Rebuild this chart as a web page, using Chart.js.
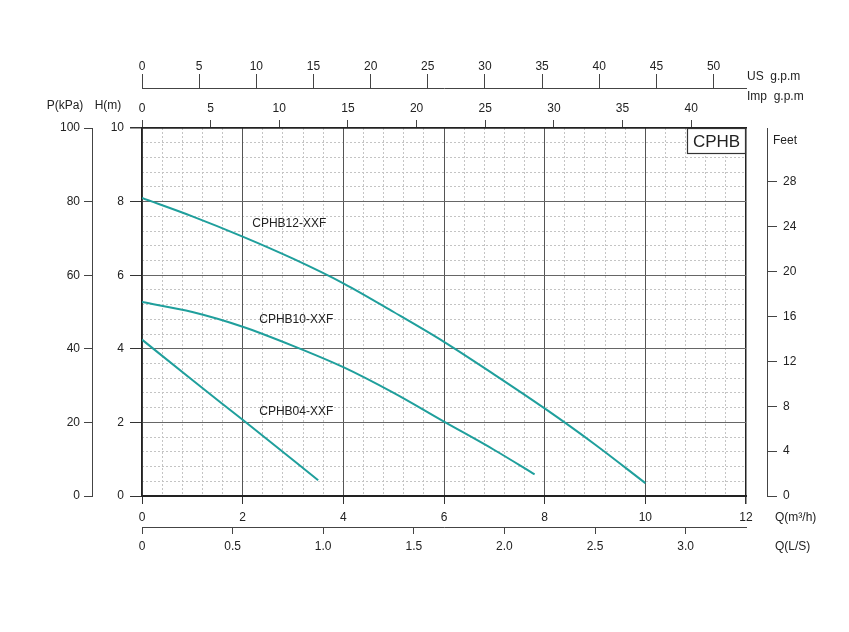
<!DOCTYPE html>
<html>
<head>
<meta charset="utf-8">
<script src="https://cdn.jsdelivr.net/npm/chart.js@4.4.1/dist/chart.umd.min.js"></script>
<style>
html,body{margin:0;padding:0;background:#fff;}
canvas{display:block;}
</style>
</head>
<body>
<canvas id="c" width="849" height="632"></canvas>
<script>
// ---- data ----
const flow12 = [0, 1, 2, 3, 4, 5, 6, 7, 8, 9, 10];
const head12 = [8.1, 7.6, 7.05, 6.45, 5.78, 5.0, 4.19, 3.3, 2.38, 1.4, 0.35];
const flow10 = [0, 1, 2, 3, 4, 5, 6, 7, 7.8];
const head10 = [5.27, 5.0, 4.6, 4.08, 3.5, 2.8, 2.02, 1.25, 0.59];
const flow04 = [0, 1, 2, 3, 3.5];
const head04 = [4.25, 3.15, 2.07, 0.98, 0.43];
const seriesNames = ['CPHB12-XXF', 'CPHB10-XXF', 'CPHB04-XXF'];
const labelAnchorQ = [2.19, 2.33, 2.33];
const labelAnchorH = [7.39, 4.78, 2.28];

// ---- axis ticks ----
const flowTicks = [0, 2, 4, 6, 8, 10, 12];            // m3/h
const lsTicks = [0, 0.5, 1.0, 1.5, 2.0, 2.5, 3.0];    // L/s
const impTicks = [0, 5, 10, 15, 20, 25, 30, 35, 40];  // Imp g.p.m
const usTicks = [0, 5, 10, 15, 20, 25, 30, 35, 40, 45, 50]; // US g.p.m
const headTicks = [0, 2, 4, 6, 8, 10];                // m
const kpaTicks = [0, 20, 40, 60, 80, 100];            // kPa
const feetTicks = [0, 4, 8, 12, 16, 20, 24, 28];      // ft
const minorStep = 0.4;

const LS_PER_M3H = 1 / 3.6;
const IMP_PER_M3H = 1000 / 4.54609 / 60;
const US_PER_M3H = 1000 / 3.785412 / 60;
const FT_PER_M = 3.28084;
const QMAX = 12, HMAX = 10;

const FONT = { family: '"Liberation Sans", Arial, sans-serif', size: 12 };
const TXT = '#222';
const TEAL = '#1f9f9c';

function isMajor(v) { return Math.abs(v / 2 - Math.round(v / 2)) < 1e-6; }
function minorValues(max) {
  const a = [];
  for (let i = 0; i <= Math.round(max / minorStep); i++) {
    const v = Math.round(i * minorStep * 10) / 10;
    if (!isMajor(v)) a.push(v);
  }
  return a;
}

function xy(xs, ys) { return xs.map((x, i) => ({ x: x, y: ys[i] })); }

const curve = (label, data) => ({
  label, data, borderColor: TEAL, borderWidth: 2, pointRadius: 0,
  fill: false, tension: 0.4, cubicInterpolationMode: 'monotone'
});

const side = (opts) => Object.assign({
  grid: { drawOnChartArea: false, color: '#444', tickColor: '#444' },
  border: { color: '#444', width: 1 },
  ticks: { font: FONT, color: TXT, autoSkip: false, maxRotation: 0 }
}, opts);

const minorScale = (axis, position, max) => ({
  type: 'linear', axis, position, weight: -1, min: 0, max,
  afterBuildTicks: s => { s.ticks = minorValues(max).map(v => ({ value: v })); },
  afterFit: s => { if (axis === 'x') s.height = 0; else s.width = 0; },
  grid: { color: '#c4c4c4', lineWidth: 1, drawTicks: false, tickLength: 0 },
  border: { display: false, dash: [2, 2] },
  ticks: { display: false }
});

const textPlugin = {
  id: 'texts',
  afterDraw(chart) {
    const ctx = chart.ctx;
    const xs = chart.scales.x, ys = chart.scales.y;
    ctx.save();
    ctx.fillStyle = TXT;
    ctx.font = '12px "Liberation Sans", Arial, sans-serif';
    ctx.textBaseline = 'middle';
    ctx.textAlign = 'left';
    seriesNames.forEach((n, i) => {
      ctx.fillText(n, xs.getPixelForValue(labelAnchorQ[i]), ys.getPixelForValue(labelAnchorH[i]));
    });
    ctx.textAlign = 'center';
    ctx.fillText('P(kPa)', 65, 106);
    ctx.fillText('H(m)', 108, 106);
    ctx.textAlign = 'left';
    ctx.fillText('US  g.p.m', 747, 77);
    ctx.fillText('Imp  g.p.m', 747, 97);
    ctx.fillText('Feet', 773, 141);
    ctx.fillText('Q(m\u00B3/h)', 775, 518);
    ctx.fillText('Q(L/S)', 775, 547);
    const ca = chart.chartArea;
    const bw = 59, bh = 26;
    ctx.fillStyle = '#fff';
    ctx.fillRect(ca.right - bw, ca.top, bw, bh);
    ctx.strokeStyle = '#333';
    ctx.lineWidth = 1.2;
    ctx.strokeRect(ca.right - bw + 0.5, ca.top + 0.5, bw - 1, bh - 1);
    ctx.fillStyle = TXT;
    ctx.font = '17px "Liberation Sans", Arial, sans-serif';
    ctx.textAlign = 'center';
    ctx.fillText('CPHB', ca.right - bw / 2, ca.top + bh / 2 + 1);
    ctx.restore();
  }
};

new Chart(document.getElementById('c'), {
  type: 'line',
  data: {
    datasets: [
      curve(seriesNames[0], xy(flow12, head12)),
      curve(seriesNames[1], xy(flow10, head10)),
      curve(seriesNames[2], xy(flow04, head04))
    ]
  },
  options: {
    responsive: false,
    animation: false,
    devicePixelRatio: 1,
    layout: { padding: { left: 40, right: 42, top: 50, bottom: 65 } },
    plugins: { legend: { display: false }, tooltip: { enabled: false } },
    scales: {
      xMinor: minorScale('x', 'bottom', QMAX),
      yMinor: minorScale('y', 'left', HMAX),
      x: {
        type: 'linear', axis: 'x', position: 'bottom', weight: 0, min: 0, max: QMAX,
        afterBuildTicks: s => { s.ticks = flowTicks.map(v => ({ value: v })); },
        afterFit: s => { s.height = 31; },
        grid: {
          color: c => (c.tick && c.tick.value === QMAX) ? '#222' : '#555',
          lineWidth: c => (c.tick && c.tick.value === QMAX) ? 1.5 : 1,
          tickColor: '#333',
          tickLength: 8
        },
        border: { color: '#222', width: 2 },
        ticks: { font: FONT, color: TXT, autoSkip: false, maxRotation: 0, padding: 6 }
      },
      xLS: side({
        type: 'linear', axis: 'x', position: 'bottom', weight: 1, min: 0, max: QMAX * LS_PER_M3H,
        afterBuildTicks: s => { s.ticks = lsTicks.map(v => ({ value: v })); },
        afterFit: s => { s.height = 40; },
        grid: { drawOnChartArea: false, tickColor: '#444', tickLength: 7 },
        ticks: { font: FONT, color: TXT, autoSkip: false, maxRotation: 0, padding: 5,
          callback: v => v === 0 ? '0' : v.toFixed(1) }
      }),
      xImp: side({
        type: 'linear', axis: 'x', position: 'top', weight: 0, min: 0, max: QMAX * IMP_PER_M3H,
        afterBuildTicks: s => { s.ticks = impTicks.map(v => ({ value: v })); },
        afterFit: s => { s.height = 40; },
        grid: { drawOnChartArea: false, tickColor: '#444', tickLength: 8 },
        border: { color: '#222', width: 1.5 },
        ticks: { font: FONT, color: TXT, autoSkip: false, maxRotation: 0, padding: 4 }
      }),
      xUS: side({
        type: 'linear', axis: 'x', position: 'top', weight: 1, min: 0, max: QMAX * US_PER_M3H,
        afterBuildTicks: s => { s.ticks = usTicks.map(v => ({ value: v })); },
        afterFit: s => { s.height = 38; },
        grid: { drawOnChartArea: false, tickColor: '#444', tickLength: 14 },
        ticks: { font: FONT, color: TXT, autoSkip: false, maxRotation: 0, padding: 0 }
      }),
      y: {
        type: 'linear', axis: 'y', position: 'left', weight: 0, min: 0, max: HMAX,
        afterBuildTicks: s => { s.ticks = headTicks.map(v => ({ value: v })); },
        afterFit: s => { s.width = 50; },
        grid: {
          color: c => (c.tick && c.tick.value === HMAX) ? '#222' : '#666',
          lineWidth: c => (c.tick && c.tick.value === HMAX) ? 1.5 : 1,
          tickColor: '#333',
          tickLength: 12
        },
        border: { color: '#222', width: 1.5 },
        ticks: { font: FONT, color: TXT, autoSkip: false, padding: 6 }
      },
      yP: side({
        type: 'linear', axis: 'y', position: 'left', weight: 1, min: 0, max: HMAX * 10,
        afterBuildTicks: s => { s.ticks = kpaTicks.map(v => ({ value: v })); },
        afterFit: s => { s.width = 52; },
        grid: { drawOnChartArea: false, tickColor: '#444', tickLength: 8 },
        ticks: { font: FONT, color: TXT, autoSkip: false, padding: 4 }
      }),
      ySpacer: {
        type: 'linear', axis: 'y', position: 'right', weight: 0, min: 0, max: 1,
        afterFit: s => { s.width = 21; },
        grid: { display: false, drawTicks: false },
        border: { display: false },
        ticks: { display: false }
      },
      yFt: side({
        type: 'linear', axis: 'y', position: 'right', weight: 1, min: 0, max: HMAX * FT_PER_M,
        afterBuildTicks: s => { s.ticks = feetTicks.map(v => ({ value: v })); },
        afterFit: s => { s.width = 40; },
        grid: { drawOnChartArea: false, tickColor: '#444', tickLength: 10 },
        ticks: { font: FONT, color: TXT, autoSkip: false, padding: 6 }
      })
    }
  },
  plugins: [textPlugin]
});
</script>
</body>
</html>
